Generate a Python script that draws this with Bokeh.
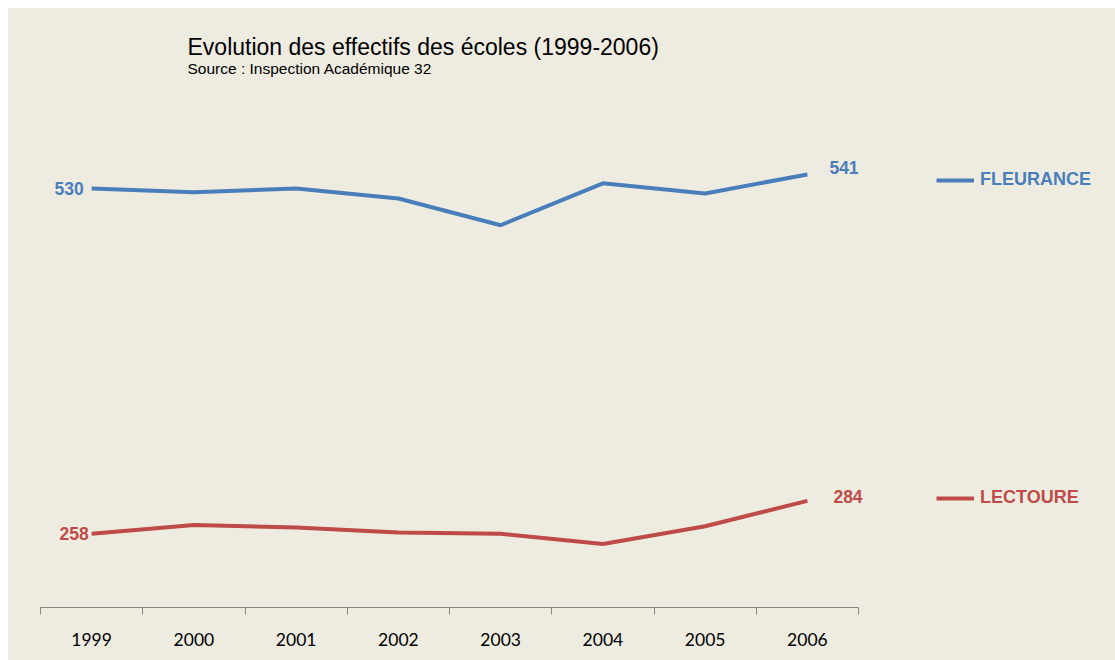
from bokeh.plotting import figure
from bokeh.models import (Range1d, LinearAxis, FixedTicker, Legend, LegendItem,
                          BasicTickFormatter)
from bokeh.core.properties import value
from bokeh.embed import file_html
from bokeh.resources import INLINE

# ---- data ----
years = [1999, 2000, 2001, 2002, 2003, 2004, 2005, 2006]
fleurance = [530, 527, 530, 522, 501, 534, 526, 541]
lectoure = [258, 265, 263, 259, 258, 250, 264, 284]
series_names = ["FLEURANCE", "LECTOURE"]
title_text = "Evolution des effectifs des écoles (1999-2006)"
subtitle_text = "Source : Inspection Académique 32"

BG = "#EEECE1"
BLUE = "#4A7EBB"
RED = "#BE4B48"
AXIS = "#868686"

x_start = years[0] - 0.5
x_axis_end = years[-1] + 0.5
x_end = x_axis_end + 2.513   # extra room on the right for the legend
y_start = 200
y_end = 671.65               # room above the data for the titles

p = figure(width=1107, height=652, output_backend="svg", toolbar_location=None,
           x_range=Range1d(x_start, x_end), y_range=Range1d(y_start, y_end),
           x_axis_location=None, y_axis_location=None,
           min_border_left=32, min_border_right=0, min_border_top=0, min_border_bottom=53)
p.margin = (8, 0, 0, 8)
p.styles = {"background-color": BG}
p.background_fill_color = BG
p.border_fill_color = BG
p.outline_line_color = None
p.xgrid.visible = False
p.ygrid.visible = False
p.title = None

# titles (as text anchored to the top-left of the plotting area)
p.text(x=[x_start], y=[y_end], text=[title_text], text_color="#000000",
       text_font=value("Liberation Sans"), text_font_size="23px",
       text_align="left", text_baseline="alphabetic", x_offset=147, y_offset=38)
p.text(x=[x_start], y=[y_end], text=[subtitle_text], text_color="#000000",
       text_font=value("Liberation Sans"), text_font_size="15.5px",
       text_align="left", text_baseline="alphabetic", x_offset=147, y_offset=60)

# x axis with boundary ticks
bounds = [y - 0.5 for y in years] + [years[-1] + 0.5]
xaxis = LinearAxis(ticker=FixedTicker(ticks=years, minor_ticks=bounds),
                   formatter=BasicTickFormatter(use_scientific=False),
                   bounds=(x_start, x_axis_end))
xaxis.axis_line_color = AXIS
xaxis.axis_line_width = 1
xaxis.major_tick_in = 0
xaxis.major_tick_out = 0
xaxis.minor_tick_in = 0
xaxis.minor_tick_out = 7
xaxis.minor_tick_line_color = AXIS
xaxis.major_label_standoff = 18
xaxis.major_label_text_font = "Lato"
xaxis.major_label_text_font_size = "17.5px"
xaxis.major_label_text_color = "#000000"
p.add_layout(xaxis, "below")

r1 = p.line(years, fleurance, line_color=BLUE, line_width=4)
r2 = p.line(years, lectoure, line_color=RED, line_width=4)

lab_font = value("Liberation Sans")
# first / last value labels
p.text(x=[years[0]], y=[fleurance[0]], text=[str(fleurance[0])], text_color=BLUE,
       text_font=lab_font, text_font_size="17.5px", text_font_style="bold",
       text_align="right", text_baseline="middle", x_offset=-8, y_offset=0)
p.text(x=[years[-1]], y=[fleurance[-1]], text=[str(fleurance[-1])], text_color=BLUE,
       text_font=lab_font, text_font_size="17.5px", text_font_style="bold",
       text_align="left", text_baseline="middle", x_offset=22, y_offset=-7)
p.text(x=[years[0]], y=[lectoure[0]], text=[str(lectoure[0])], text_color=RED,
       text_font=lab_font, text_font_size="17.5px", text_font_style="bold",
       text_align="right", text_baseline="middle", x_offset=-3, y_offset=0)
p.text(x=[years[-1]], y=[lectoure[-1]], text=[str(lectoure[-1])], text_color=RED,
       text_font=lab_font, text_font_size="17.5px", text_font_style="bold",
       text_align="left", text_baseline="middle", x_offset=26, y_offset=-4)

def make_legend(name, rend, color, loc):
    lg = Legend(items=[LegendItem(label=name, renderers=[rend])], location=loc,
                padding=0, margin=0, spacing=0, glyph_width=38, glyph_height=20,
                label_height=20, label_standoff=6, border_line_color=None,
                background_fill_alpha=0, label_text_font="Liberation Sans",
                label_text_font_size="18px", label_text_font_style="bold",
                label_text_color=color)
    p.add_layout(lg, "center")

make_legend(series_names[0], r1, BLUE, (896, 417))
make_legend(series_names[1], r2, RED, (896, 99))

open("out.html", "w").write(file_html(p, INLINE))
